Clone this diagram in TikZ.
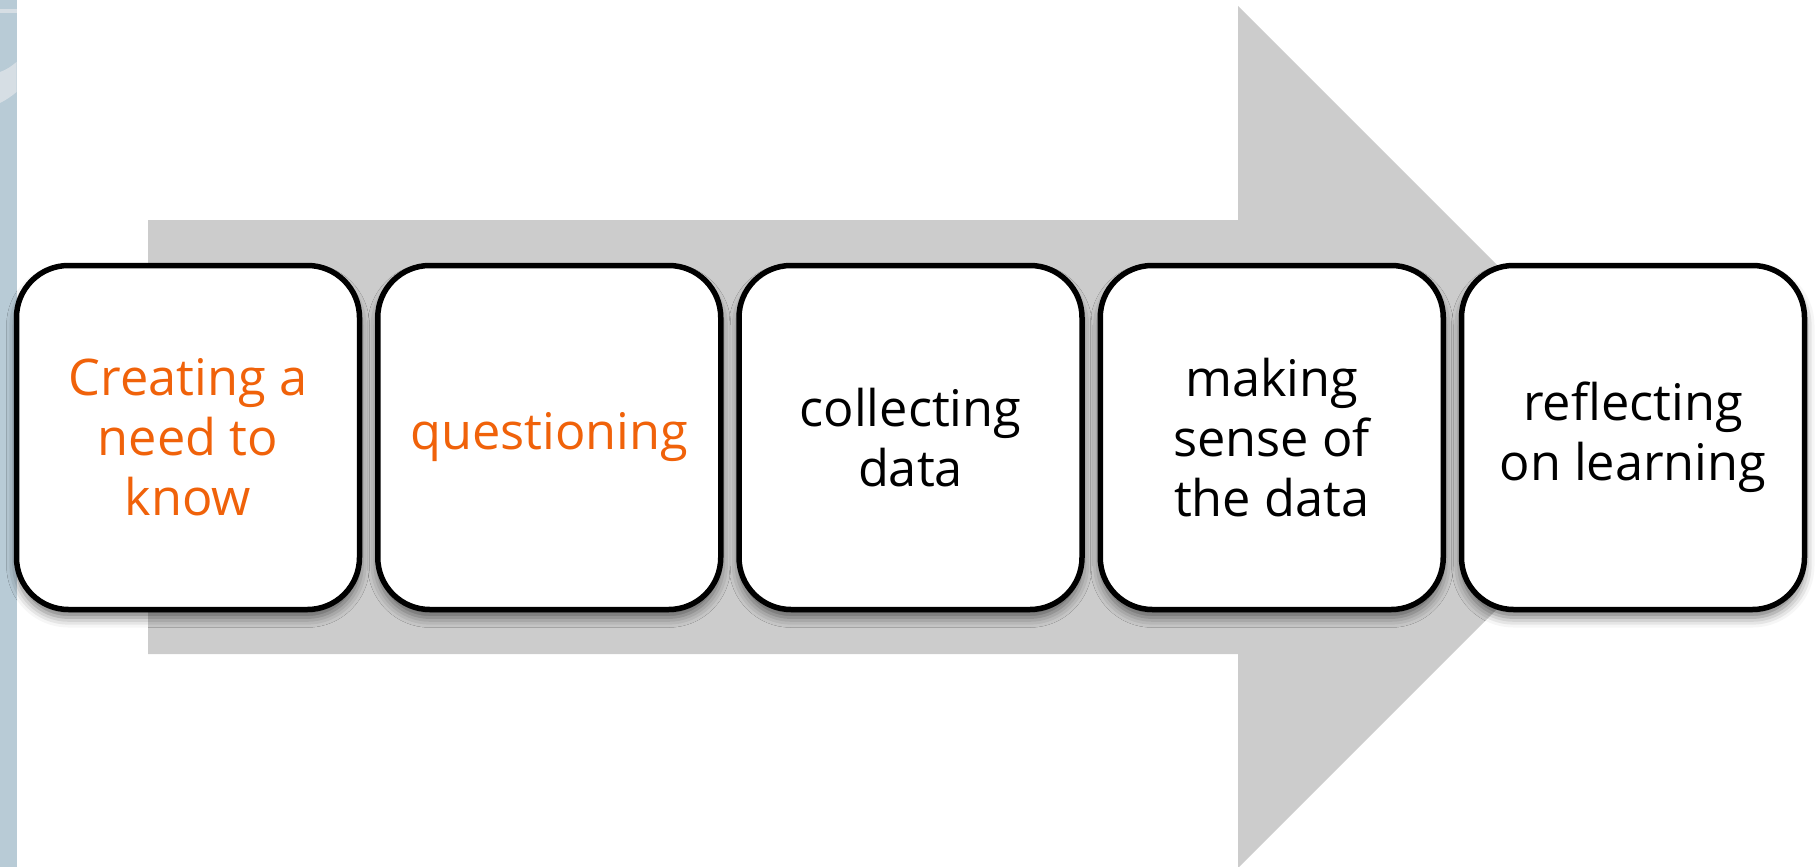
\documentclass[tikz,border=0pt]{standalone}
\usepackage{fontspec}
\setmainfont{Open Sans}
\usetikzlibrary{shadows.blur}
\definecolor{arrowgray}{RGB}{204,204,204}
\definecolor{stripblue}{RGB}{184,203,214}
\definecolor{stripband}{RGB}{214,222,228}
\definecolor{keyorange}{RGB}{240,98,10}
\tikzset{
  stepbox/.style={draw=black, line width=5.5pt, fill=white, rounded corners=52pt,
    minimum width=343pt, minimum height=344pt, inner sep=0pt, align=center,
    font=\fontsize{50.5}{60}\selectfont,
    blur shadow={shadow xshift=0pt, shadow yshift=-8pt, shadow blur radius=10pt, shadow opacity=55}},
  hot/.style={text=keyorange},
  cold/.style={text=black}
}
\begin{document}
\begin{tikzpicture}[x=1pt,y=-1pt]
\useasboundingbox (0,0) rectangle (1816,867);
\clip (0,0) rectangle (1816,867);
% left strip
\fill[stripblue] (0,0) rectangle (16.5,867);
\fill[stripband] (0,9) rectangle (16.5,13);
\fill[stripband] (0,72) .. controls (6,70) and (12,66) .. (16.5,62) -- (16.5,92) .. controls (12,96) and (6,100) .. (0,103) -- cycle;
% big arrow
\fill[arrowgray] (148,220) -- (1238,220) -- (1238,6) -- (1669,437) -- (1238,868) -- (1238,654) -- (148,654) -- cycle;
% boxes
\node[stepbox, hot]  (s1) at (188,437.5)     {Creating a\\need to\\know};
\node[stepbox, hot]  (s2) at (549.25,437.5)  {questioning};
\node[stepbox, cold] (s3) at (910.5,437.5)   {collecting\\data};
\node[stepbox, cold] (s4) at (1271.75,437.5) {making\\sense of\\the data};
\node[stepbox, cold] (s5) at (1633,437.5)    {reflecting\\on learning};
\end{tikzpicture}
\end{document}
